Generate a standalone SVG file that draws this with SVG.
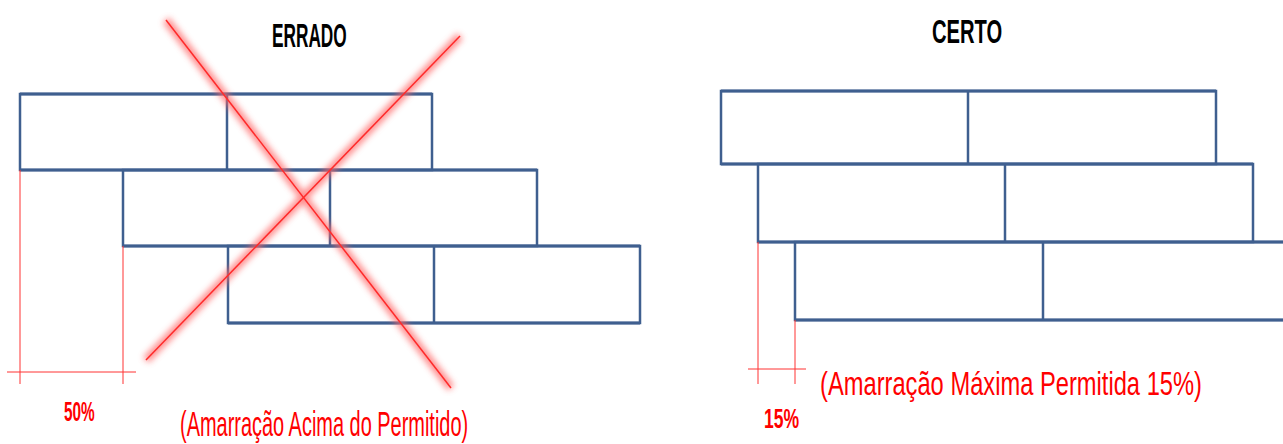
<svg xmlns="http://www.w3.org/2000/svg" width="1283" height="444" viewBox="0 0 1283 444">
<style>
.brick{fill:none;stroke:#3f5f8f;stroke-width:2.5}
.hl{stroke:#3f5f8f;stroke-width:3.2}
.red{stroke:#ff3333;stroke-width:1}
.lbl{font-family:"Liberation Sans",Arial,sans-serif;fill:#ff0000}
.ttl{font-family:"Liberation Sans",Arial,sans-serif;font-weight:bold;fill:#000;font-size:33px}
</style>
<defs>
<filter id="glow" x="-20%" y="-20%" width="140%" height="140%"><feGaussianBlur stdDeviation="3"/></filter>
</defs>
<rect width="1283" height="444" fill="#fff"/>
<g id="errado">
<text class="ttl" transform="translate(272,47) scale(0.53,1)" textLength="141" lengthAdjust="spacingAndGlyphs">ERRADO</text>
<g id="wall-left">
<rect class="brick" x="20" y="94" width="412" height="76"/>
<line class="brick" x1="227" y1="94" x2="227" y2="170"/>
<rect class="brick" x="123" y="170" width="414" height="76"/>
<line class="brick" x1="330" y1="170" x2="330" y2="246"/>
<rect class="brick" x="228" y="246" width="412" height="77"/>
<line class="brick" x1="434" y1="246" x2="434" y2="323"/>
<line class="hl" x1="20" y1="94" x2="432" y2="94"/>
<line class="hl" x1="20" y1="170" x2="537" y2="170"/>
<line class="hl" x1="123" y1="246" x2="640" y2="246"/>
<line class="hl" x1="228" y1="323" x2="640" y2="323"/>
</g>
<g id="dim-left">
<line class="red" x1="20" y1="170" x2="20" y2="384"/>
<line class="red" x1="123" y1="246" x2="123" y2="384"/>
<line class="red" x1="7" y1="372" x2="136" y2="372"/>
<text class="lbl" font-size="27" font-weight="bold" transform="translate(64,421) scale(0.58,1)" textLength="53" lengthAdjust="spacingAndGlyphs">50%</text>
</g>
<g id="cross">
<g filter="url(#glow)" stroke="#ff6666" stroke-width="8" opacity="0.75">
<line x1="166" y1="20" x2="451" y2="388"/>
<line x1="460" y1="36" x2="146" y2="360"/>
</g>
<line x1="166" y1="20" x2="451" y2="388" stroke="#ff2a2a" stroke-width="1.5"/>
<line x1="460" y1="36" x2="146" y2="360" stroke="#ff2a2a" stroke-width="1.5"/>
</g>
<text class="lbl" font-size="35" transform="translate(180,436) scale(0.565,1)" textLength="510" lengthAdjust="spacingAndGlyphs">(Amarração Acima do Permitido)</text>
</g>
<g id="certo">
<text class="ttl" transform="translate(932,43) scale(0.6,1)" textLength="117" lengthAdjust="spacingAndGlyphs">CERTO</text>
<g id="wall-right">
<rect class="brick" x="721" y="91" width="495" height="73"/>
<line class="brick" x1="968" y1="91" x2="968" y2="164"/>
<rect class="brick" x="758" y="164" width="495" height="78"/>
<line class="brick" x1="1005" y1="164" x2="1005" y2="242"/>
<rect class="brick" x="795" y="242" width="495" height="78"/>
<line class="brick" x1="1043" y1="242" x2="1043" y2="320"/>
<line class="hl" x1="721" y1="91" x2="1216" y2="91"/>
<line class="hl" x1="721" y1="164" x2="1253" y2="164"/>
<line class="hl" x1="758" y1="242" x2="1283" y2="242"/>
<line class="hl" x1="795" y1="320" x2="1283" y2="320"/>
</g>
<g id="dim-right">
<line class="red" x1="758" y1="242" x2="758" y2="384"/>
<line class="red" x1="795" y1="320" x2="795" y2="384"/>
<line class="red" x1="748" y1="369" x2="806" y2="369"/>
<text class="lbl" font-size="27" font-weight="bold" transform="translate(764,428) scale(0.65,1)" textLength="54" lengthAdjust="spacingAndGlyphs">15%</text>
</g>
<text class="lbl" font-size="34" transform="translate(820,395) scale(0.697,1)" textLength="548" lengthAdjust="spacingAndGlyphs">(Amarração Máxima Permitida 15%)</text>
</g>
</svg>
